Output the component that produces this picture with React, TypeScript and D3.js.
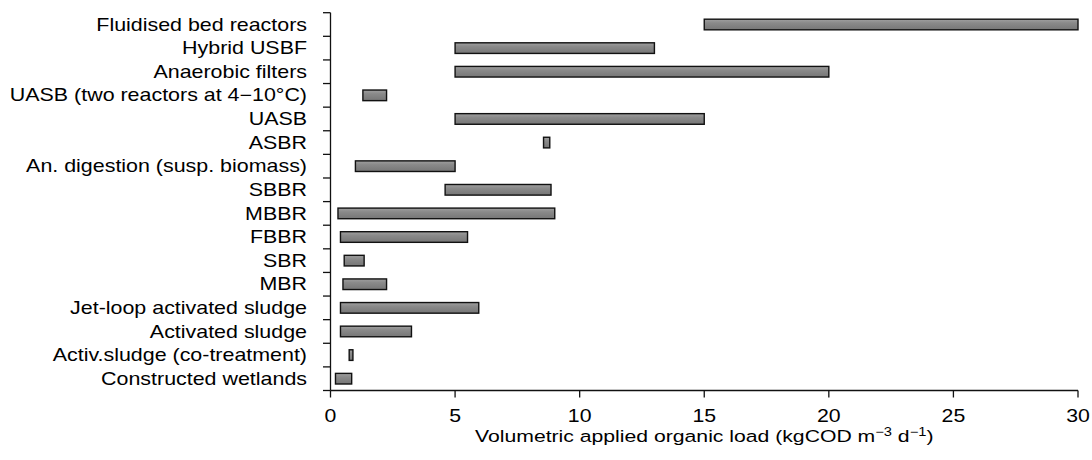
import React from "react";
import * as d3 from "d3";

const categories = [
  "Fluidised bed reactors",
  "Hybrid USBF",
  "Anaerobic filters",
  "UASB (two reactors at 4\u221210\u00b0C)",
  "UASB",
  "ASBR",
  "An. digestion (susp. biomass)",
  "SBBR",
  "MBBR",
  "FBBR",
  "SBR",
  "MBR",
  "Jet-loop activated sludge",
  "Activated sludge",
  "Activ.sludge (co-treatment)",
  "Constructed wetlands",
];

// lower and upper end of each range (kgCOD m-3 d-1)
const lowValues = [15, 5, 5, 1.3, 5, 8.55, 1, 4.6, 0.3, 0.4, 0.55, 0.5, 0.4, 0.4, 0.75, 0.2];
const highValues = [30, 13, 20, 2.25, 15, 8.8, 5, 8.85, 9, 5.5, 1.35, 2.25, 5.95, 3.25, 0.9, 0.85];

const xTicks = [0, 5, 10, 15, 20, 25, 30];

const W = 1092;
const H = 460;
const margin = { top: 12.7, right: 14, bottom: 69.5, left: 330.5 };
const FONT = "'Liberation Sans', Arial, Helvetica, sans-serif";
// the reference lettering is wider than Arial, so stretch it a little
const SX = 1.225;

export default function App() {
  const x = d3
    .scaleLinear()
    .domain([0, 30])
    .range([margin.left, W - margin.right]);

  const y = d3
    .scaleBand()
    .domain(categories)
    .range([margin.top, H - margin.bottom])
    .paddingInner(0)
    .paddingOuter(0);

  const step = y.step();
  const barH = step * 0.45;
  const axisY = H - margin.bottom;
  const boundaries = d3.range(categories.length + 1).map((i) => margin.top + i * step);

  return (
    <svg
      width={W}
      height={H}
      style={{ position: "absolute", left: 0, top: 0, background: "#fff" }}
      fontFamily={FONT}
    >
      <defs>
        <linearGradient id="barFill" x1="0" y1="0" x2="0" y2="1">
          <stop offset="0%" stopColor="#a0a0a0" />
          <stop offset="35%" stopColor="#8a8a8a" />
          <stop offset="100%" stopColor="#767676" />
        </linearGradient>
      </defs>

      {/* bars */}
      {categories.map((c, i) => (
        <rect
          key={c}
          x={x(lowValues[i])}
          y={(y(c) as number) + (step - barH) / 2}
          width={x(highValues[i]) - x(lowValues[i])}
          height={barH}
          fill="url(#barFill)"
          stroke="#111"
          strokeWidth={1.4}
        />
      ))}

      {/* y axis */}
      <line x1={margin.left} x2={margin.left} y1={margin.top} y2={axisY} stroke="#111" strokeWidth={1.3} />
      {boundaries.map((b, i) => (
        <line key={i} x1={margin.left - 7.5} x2={margin.left} y1={b} y2={b} stroke="#111" strokeWidth={1.3} />
      ))}
      {categories.map((c) => (
        <g key={c} transform={`translate(307,${(y(c) as number) + step / 2}) scale(${SX},1)`}>
          <text dy="0.35em" textAnchor="end" fontSize={17.5} fill="#000">
            {c}
          </text>
        </g>
      ))}

      {/* x axis */}
      <line x1={margin.left} x2={x(30)} y1={axisY} y2={axisY} stroke="#111" strokeWidth={1.3} />
      {xTicks.map((t) => (
        <g key={t} transform={`translate(${x(t)},0)`}>
          <line y1={axisY} y2={axisY + 7} stroke="#111" strokeWidth={1.3} />
          <text
            y={axisY + 31.5}
            textAnchor="middle"
            fontSize={19}
            fill="#000"
            transform="scale(1.12,1)"
          >
            {t}
          </text>
        </g>
      ))}
      <g transform={`translate(${(x(0) + x(30)) / 2},441.5) scale(${SX},1)`}>
        <text textAnchor="middle" fontSize={17.3} fill="#000">
          Volumetric applied organic load (kgCOD m
          <tspan dy={-6} fontSize={12}>{"\u22123"}</tspan>
          <tspan dy={6}> d</tspan>
          <tspan dy={-6} fontSize={12}>{"\u22121"}</tspan>
          <tspan dy={6}>)</tspan>
        </text>
      </g>
    </svg>
  );
}
